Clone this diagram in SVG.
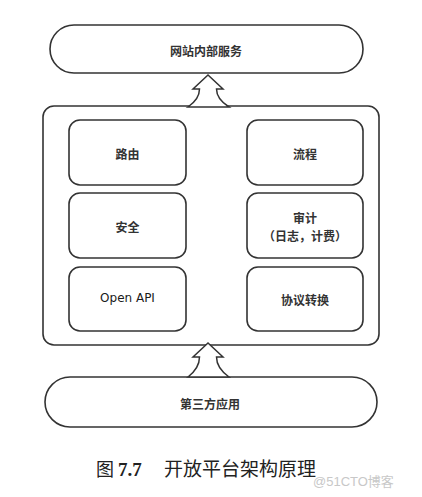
<svg xmlns="http://www.w3.org/2000/svg" width="422" height="497" viewBox="0 0 422 497">
<style>
.b{fill:#fff;stroke:#333;stroke-width:1.6}
.t{font-family:"Noto Sans CJK SC","Liberation Sans",sans-serif;font-size:12px;font-weight:bold;fill:#333;text-anchor:middle;dominant-baseline:central}
.a{fill:#fff;stroke:#333;stroke-width:1.5;stroke-linejoin:miter}
</style>
<rect width="422" height="497" fill="#fff"/>
<g id="top">
<rect class="b" x="50" y="25" width="313" height="48" rx="24"/>
<text class="t" x="206" y="50">网站内部服务</text>
</g>
<g id="platform">
<rect class="b" x="43" y="106" width="336" height="239" rx="11"/>
</g>
<g id="routing"><rect class="b" x="69" y="120" width="117" height="65" rx="11"/><text class="t" x="127.5" y="153">路由</text></g>
<g id="flow"><rect class="b" x="247" y="120" width="116" height="65" rx="11"/><text class="t" x="305" y="153">流程</text></g>
<g id="security"><rect class="b" x="69" y="193" width="117" height="65" rx="11"/><text class="t" x="127.5" y="226">安全</text></g>
<g id="audit"><rect class="b" x="247" y="193" width="116" height="65" rx="11"/><text class="t" x="305" y="217">审计</text><text class="t" x="305" y="235">（日志，计费）</text></g>
<g id="openapi"><rect class="b" x="69" y="267" width="117" height="64" rx="11"/><text class="t" x="127.5" y="298" style="font-family:'DejaVu Sans',sans-serif;font-weight:normal;font-size:12px;fill:#1a1a1a">Open  API</text></g>
<g id="protocol"><rect class="b" x="247" y="267" width="116" height="64" rx="11"/><text class="t" x="305" y="299">协议转换</text></g>
<g id="bottom">
<rect class="b" x="45" y="377" width="332" height="50" rx="25"/>
<text class="t" x="210" y="403">第三方应用</text>
</g>
<g id="connectors">
<path class="a" d="M208,75 L193,89 L199.5,89 Q199.5,99 188,107 L229,107 Q216.5,99 216.5,89 L223,89 Z"/>
<path class="a" d="M208,343 L193,357 L199.5,357 Q199.5,368 188,377 L229,377 Q216.5,368 216.5,357 L223,357 Z"/>
</g>
<text x="96" y="476" style="font-family:'Noto Sans CJK SC',serif;font-size:18px;fill:#222">图 <tspan style="font-family:'Liberation Serif',serif;font-weight:bold;font-size:19px">7.7</tspan><tspan x="164" style="font-size:19px">开放平台架构原理</tspan></text>
<text x="313" y="486" style="font-family:'Liberation Sans','Noto Sans CJK SC',sans-serif;font-size:13px;fill:#c8c8c8">@51CTO博客</text>
</svg>
